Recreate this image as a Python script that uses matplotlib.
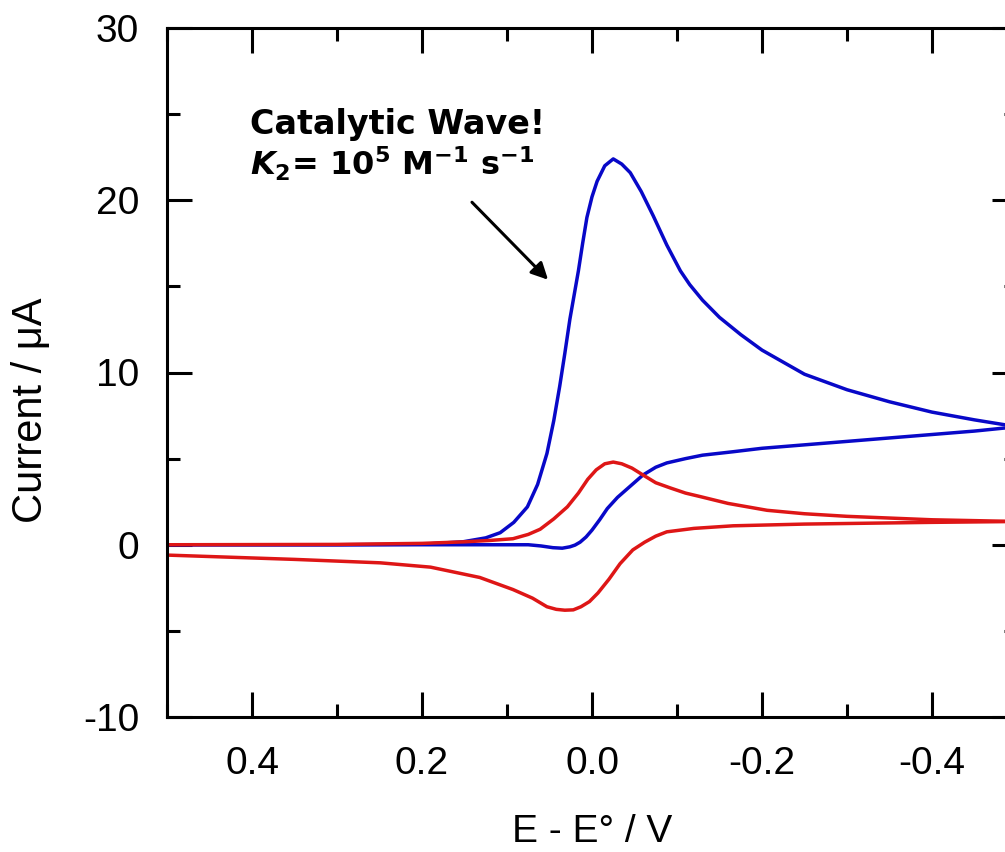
import matplotlib
matplotlib.use("Agg")
import matplotlib.pyplot as plt
from matplotlib.ticker import MultipleLocator

plt.rcParams['axes.unicode_minus'] = False
plt.rcParams['mathtext.fontset'] = 'custom'
plt.rcParams['mathtext.rm'] = 'DejaVu Sans:bold'
plt.rcParams['mathtext.it'] = 'DejaVu Sans:italic:bold'
plt.rcParams['mathtext.bf'] = 'DejaVu Sans:bold'

# catalytic CV (blue), forward scan then return scan
blue_fwd_E = [0.50, 0.30, 0.20, 0.152, 0.125, 0.108, 0.092, 0.076, 0.064, 0.053,
              0.045, 0.038, 0.032, 0.026, 0.021, 0.016, 0.011, 0.006, 0.000, -0.006,
              -0.015, -0.025, -0.035, -0.045, -0.058, -0.072, -0.088, -0.104, -0.115, -0.130,
              -0.150, -0.175, -0.200, -0.250, -0.300, -0.350, -0.400, -0.450, -0.500]
blue_fwd_I = [0.0, 0.0, 0.03, 0.17, 0.4, 0.7, 1.3, 2.2, 3.5, 5.3,
              7.2, 9.2, 11.1, 13.1, 14.5, 15.9, 17.5, 19.0, 20.2, 21.1,
              22.0, 22.4, 22.1, 21.6, 20.5, 19.1, 17.4, 15.9, 15.1, 14.2,
              13.2, 12.2, 11.3, 9.9, 9.0, 8.3, 7.7, 7.25, 6.85]
blue_rev_E = [-0.500, -0.450, -0.400, -0.350, -0.300, -0.250, -0.200, -0.166, -0.130, -0.110,
              -0.088, -0.075, -0.060, -0.045, -0.030, -0.018, -0.009, 0.000, 0.007, 0.014,
              0.020, 0.026, 0.035, 0.046, 0.060, 0.075, 0.120, 0.300, 0.500]
blue_rev_I = [6.85, 6.6, 6.4, 6.2, 6.0, 5.8, 5.6, 5.4, 5.2, 5.0,
              4.75, 4.5, 4.05, 3.4, 2.75, 2.1, 1.45, 0.85, 0.45, 0.15,
              -0.02, -0.12, -0.2, -0.17, -0.07, 0.0, 0.0, 0.0, 0.0]

# reversible CV without substrate (red)
red_fwd_E = [0.50, 0.30, 0.20, 0.15, 0.12, 0.093, 0.075, 0.061, 0.045, 0.029,
             0.016, 0.005, -0.005, -0.015, -0.025, -0.035, -0.047, -0.060, -0.075, -0.092,
             -0.110, -0.127, -0.160, -0.206, -0.250, -0.300, -0.350, -0.400, -0.450, -0.500]
red_fwd_I = [0.0, 0.02, 0.08, 0.17, 0.25, 0.35, 0.6, 0.9, 1.5, 2.2,
             3.0, 3.8, 4.35, 4.7, 4.8, 4.7, 4.45, 4.05, 3.6, 3.3,
             3.0, 2.8, 2.4, 2.0, 1.8, 1.65, 1.55, 1.45, 1.4, 1.35]
red_rev_E = [-0.500, -0.400, -0.324, -0.250, -0.166, -0.120, -0.088, -0.075, -0.062, -0.048,
             -0.033, -0.020, -0.007, 0.003, 0.013, 0.022, 0.032, 0.042, 0.053, 0.070,
             0.093, 0.132, 0.190, 0.249, 0.350, 0.500]
red_rev_I = [1.35, 1.3, 1.25, 1.2, 1.1, 0.95, 0.75, 0.5, 0.15, -0.3,
             -1.1, -2.0, -2.8, -3.3, -3.6, -3.78, -3.8, -3.75, -3.6, -3.1,
             -2.6, -1.9, -1.3, -1.05, -0.85, -0.6]

blue = '#0808c8'
red = '#de1616'

fig = plt.figure(figsize=(10.05, 8.52), dpi=100)
ax = fig.add_axes([167/1005, 135/852, 850/1005, 689/852])

for E, I, c in [(blue_fwd_E, blue_fwd_I, blue), (blue_rev_E, blue_rev_I, blue),
                (red_fwd_E, red_fwd_I, red), (red_rev_E, red_rev_I, red)]:
    ax.plot(E, I, color=c, lw=2.5, solid_joinstyle='round', solid_capstyle='round')

ax.set_xlim(0.5, -0.5)
ax.set_ylim(-10, 30)
ax.xaxis.set_major_locator(MultipleLocator(0.2))
ax.xaxis.set_minor_locator(MultipleLocator(0.1))
ax.yaxis.set_major_locator(MultipleLocator(10))
ax.yaxis.set_minor_locator(MultipleLocator(5))
ax.xaxis.set_major_formatter(plt.FuncFormatter(lambda v, p: f"{v:.1f}"))

for s in ax.spines.values():
    s.set_linewidth(2.2)
ax.tick_params(which='both', direction='in', top=True, right=True, width=2.2)
ax.tick_params(which='major', length=18)
ax.tick_params(which='minor', length=9.5)
ax.tick_params(axis='y', which='major', pad=20)
ax.tick_params(axis='x', which='major', pad=21)
for lab in ax.get_xticklabels() + ax.get_yticklabels():
    lab.set_fontfamily('Liberation Sans')
    lab.set_fontsize(28)

fig.text(592/1005, 1 - 832/852, "E - E° / V", ha='center', va='center',
         fontsize=28, family='Liberation Sans')
fig.text(31/1005, 1 - 410/852, "Current / μA", ha='center', va='center', rotation=90,
         fontsize=30, family='Liberation Sans')

ax.text(0.402, 24.4, "Catalytic Wave!", fontsize=24, fontweight='bold',
        family='DejaVu Sans', va='center', ha='left')
ax.text(0.402, 22.1, "$K_2$= 10$^5$ M$^{-1}$ s$^{-1}$", fontsize=23, fontweight='bold',
        family='DejaVu Sans', va='center', ha='left')
ax.annotate("", xy=(0.0494, 15.27), xytext=(0.1435, 20.0),
            arrowprops=dict(arrowstyle='-|>', color='black', lw=2.2, mutation_scale=25))

fig.savefig("out.png", dpi=100)
